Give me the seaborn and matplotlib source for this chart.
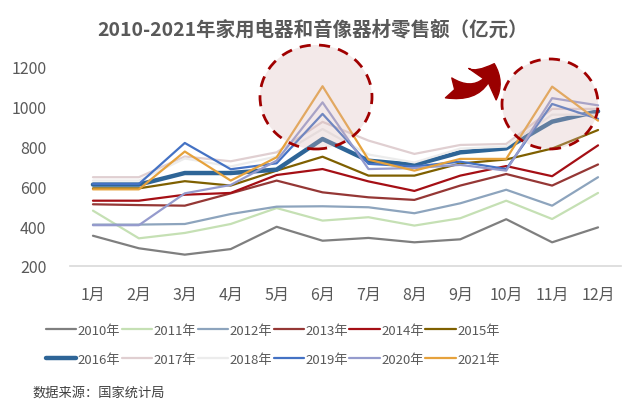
import numpy as np
import pandas as pd
import matplotlib
matplotlib.use("Agg")
import matplotlib.pyplot as plt
import seaborn as sns
from matplotlib.patches import Ellipse, FancyArrowPatch

sns.set_theme(style="white")
plt.rcParams['font.family'] = ['Noto Sans CJK SC', 'DejaVu Sans']

months = ['1月', '2月', '3月', '4月', '5月', '6月', '7月', '8月', '9月', '10月', '11月', '12月']
years = ['2010年', '2011年', '2012年', '2013年', '2014年', '2015年',
         '2016年', '2017年', '2018年', '2019年', '2020年', '2021年']

y2010 = [352, 289, 257, 285, 397, 327, 341, 319, 334, 435, 319, 394]
y2011 = [478, 339, 366, 411, 491, 428, 445, 403, 440, 528, 436, 567]
y2012 = [408, 408, 411, 461, 498, 500, 495, 465, 515, 583, 503, 646]
y2013 = [510, 506, 503, 565, 629, 570, 545, 532, 604, 662, 604, 710]
y2014 = [528, 528, 558, 567, 657, 687, 625, 577, 654, 702, 651, 806]
y2015 = [590, 590, 626, 604, 679, 749, 654, 654, 715, 735, 790, 883]
y2016 = [609, 609, 667, 667, 684, 838, 729, 708, 771, 791, 925, 977]
y2017 = [646, 646, 750, 726, 771, 924, 830, 763, 808, 813, 989, 989]
y2018 = [629, 629, 740, 700, 750, 888, 760, 720, 790, 800, 960, 960]
y2019 = [612, 612, 818, 686, 716, 964, 713, 700, 724, 687, 1014, 939]
y2020 = [405, 405, 565, 607, 729, 1022, 687, 692, 708, 679, 1043, 1007]
y2021 = [585, 585, 775, 629, 746, 1103, 734, 679, 738, 738, 1101, 930]

series = [y2010, y2011, y2012, y2013, y2014, y2015,
          y2016, y2017, y2018, y2019, y2020, y2021]

colors = ['#7f7f7f', '#c5e0b4', '#8da4bd', '#953735', '#a50f15', '#7f6000',
          '#2e6597', '#e0cfd1', '#ececec', '#4472c4', '#959bcd', '#e6a23c']
widths = [1.6] * 12
widths[6] = 3.2

rows = []
for yr, vals in zip(years, series):
    for i, v in enumerate(vals):
        rows.append({'year': yr, 'month': i + 1, 'value': v})
df = pd.DataFrame(rows)

fig = plt.figure(figsize=(6.4, 4.14), dpi=100)
ax = fig.add_axes([70 / 640, 1 - 267 / 414, 551 / 640, 219 / 414])

for yr, c, lw in zip(years, colors, widths):
    sns.lineplot(data=df[df['year'] == yr], x='month', y='value', color=c,
                 linewidth=lw, ax=ax, label=yr)

ax.set_xlim(0.5, 12.5)
ax.set_ylim(200, 1300)
ax.set_xticks(range(1, 13))
ax.set_xticklabels(months)
ax.set_yticks([200, 400, 600, 800, 1000, 1200])
ax.set_xlabel('')
ax.set_ylabel('')
ax.tick_params(axis='both', length=0, labelsize=11.5, colors='#595959')
ax.tick_params(axis='x', pad=14)
ax.tick_params(axis='y', pad=17)
for s in ['top', 'right', 'left']:
    ax.spines[s].set_visible(False)
ax.spines['bottom'].set_color('#d9d9d9')
ax.spines['bottom'].set_linewidth(1.2)
ax.grid(False)

# legend filled row by row (6 per row)
handles, labels = ax.get_legend_handles_labels()
ax.legend_.remove()
order = [i + 6 * r for i in range(6) for r in range(2)]
fig.legend([handles[i] for i in order], [labels[i] for i in order],
           ncol=6, loc='upper left',
           bbox_to_anchor=(34 / 640, 1 - 313 / 414), frameon=False,
           fontsize=9.5, handlelength=2.3, handletextpad=0.12,
           columnspacing=0.1, labelspacing=1.2, labelcolor='#595959')

# highlight circles
for cx, cy, w, h in [(316, 98, 112, 104), (550, 105, 96, 90)]:
    e = Ellipse((cx / 640, 1 - cy / 414), w / 640, h / 414,
                transform=fig.transFigure, facecolor=(0.85, 0.72, 0.72, 0.3),
                edgecolor='#a00000', linestyle=(0, (4, 3)), linewidth=2)
    fig.patches.append(e)

arrow = FancyArrowPatch((446 / 640, 1 - 88 / 414), (495 / 640, 1 - 62 / 414),
                        transform=fig.transFigure,
                        connectionstyle='arc3,rad=0.55',
                        arrowstyle='fancy,head_length=0.85,head_width=1.5,tail_width=0.75',
                        mutation_scale=20, color='#9a0000')
fig.patches.append(arrow)

fig.text(313 / 640, 1 - 30 / 414, '2010-2021年家用电器和音像器材零售额（亿元）',
         ha='center', va='center', fontsize=14, fontweight='bold', color='#595959')
fig.text(32 / 640, 1 - 393 / 414, '数据来源：国家统计局', ha='left', va='center',
         fontsize=9.5, color='#404040')

fig.savefig('out.png', dpi=100)
